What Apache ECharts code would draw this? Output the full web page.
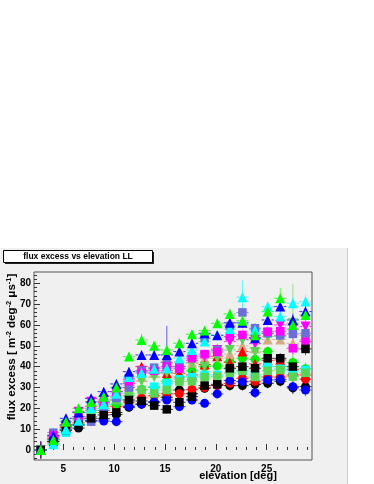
<!DOCTYPE html>
<html><head><meta charset="utf-8">
<script src="https://cdn.jsdelivr.net/npm/echarts@6/dist/echarts.min.js"></script>
<style>html,body{margin:0;padding:0;background:#fff}#c{width:374px;height:484px}</style>
</head><body><div id="c"></div>
<script>
const elevation = [2.78,4.02,5.26,6.5,7.74,8.98,10.22,11.46,12.7,13.94,15.18,16.42,17.66,18.9,20.14,21.38,22.62,23.86,25.1,26.34,27.58,28.82];
const xTickLabels = [5,10,15,20,25];
const yTickLabels = [0,10,20,30,40,50,60,70,80];

const blackCircle = [0,4,9.5,10.5,14,15,17,20.5,22,23,25.3,28.8,27,29.6,31,30.9,30.9,31.5,32,33,29.8,30.4];
const redCircle   = [0,5,11,13,16,18,21,23,25,26,27,27,29,30,31,32,34.4,33,35,35,36,34];
const greenCircle = [0,5,12,15,18,20,22,26,29,30,33,35,38,40,40.3,42.4,44,43.5,47.2,40,42,39];
const blueCircle  = [0,5,10,12,14,13.9,13.6,21,22,23,24,20.8,24,22.4,26.9,33.3,32.8,27.5,33.6,33.9,30.4,28.8];
const blackSquare = [0,4,9.6,12,15.2,16.8,18,24,23.5,21.3,19.5,22.9,25.6,30.9,31.5,39.2,40,39.2,44,44,40,48.5];
const magentaSquare = [0,7,12,16,21,23,28,33,37,38,40,39,44,46,47,54.4,55.2,54,56.8,57,48.8,52];
const green8Square  = [0,5,12,15,19,22,24,27.2,28.8,27.2,28.8,32.8,33,35,35.2,37,38,35,38,38.4,35.2,37];
const slateSquare   = [0,8.3,12,15,13.6,19,25,30,38,39.5,42,40,45,53.6,48,59.5,66,58.4,56,55,55.7,56];
const cyanSquare    = [0,2.4,8.3,12.3,16,19,24,34.4,37.6,30.4,32,34,35,36,36,39,38,36,40,39,38,38.4];
const redTriangle   = [0,5.6,11,15,19,23,28,32,40,39,37,36.8,36,41,45,42,47.2,41.3,43,43.2,38.7,36];
const greenTriangle = [0,4.8,13.6,20,23,25.6,30,44.8,52.8,50,48,51.2,55.5,57.3,60.8,65.3,62,55,66.4,72.8,60,64.8];
const blueTriangle  = [0,7,15.2,18,24.8,28,31.7,37.6,45.6,45.6,45.6,47.2,51.2,56,55,61,61,53.6,62.4,68.8,62.4,66.4];
const cyanTriangle  = [0,3,10,14,20,22,27,35,37,39,39.2,44,48,52,55.2,58,73.3,57.6,68.8,64,70.4,71.2];
const tanTriangle   = [0,6,12,16,20,22,26,31,35,37,42.4,40,42,44,48.8,46,50,48.8,53,53,51.2,55];
const magentaDown   = [0,6.4,12,18.4,23.2,24,28,34,38,37,38,40,43,45,48,52,53,51,56,60,58,59.2];
const green8Down    = [0,5,12,16,19,21,24,30,33,35,37,40,41.6,40,44,48,52.8,47,54.4,54.4,60.8,52.8];

const errSmall   = [4,2,1.5,1.5,1.5,1.5,2,2,2,2,2,2,2,2,2,2.5,2.5,2.5,2.5,2.5,3,3];
const errCyanTri = [2,2,1.5,1.5,1.5,1.5,2,2,2,2,2,2,2,2,2,2.5,8,2.5,2.5,2.5,3,3];
const errBlueTri = [2,2,1.5,1.5,1.5,1.5,2,2,2,2,14,2,2,2,2,2.5,2.5,2.5,2.5,2.5,3,3];
const errGreenTri= [2,2,1.5,1.5,1.5,1.5,2,2,3,2,2,2,2,2,2,2.5,2.5,2.5,2.5,5,3,3];
const errGreen8Dn= [2,2,1.5,1.5,1.5,1.5,2,2,2,2,2,2,2,2,2,2.5,2.5,2.5,2.5,2.5,19,3];
const xHalfWidth = 0.6;

const defs = [
  {name:'blackCircle', v:blackCircle, e:errSmall, c:'#000000', s:'circle', sz:9},
  {name:'redCircle', v:redCircle, e:errSmall, c:'#ff0000', s:'circle', sz:9},
  {name:'greenCircle', v:greenCircle, e:errSmall, c:'#00ee00', s:'circle', sz:9},
  {name:'blueCircle', v:blueCircle, e:errSmall, c:'#0000ff', s:'circle', sz:9},
  {name:'tanTriangle', v:tanTriangle, e:errSmall, c:'#d5aa84', s:'triangle', sz:10},
  {name:'redTriangle', v:redTriangle, e:errSmall, c:'#ff0000', s:'triangle', sz:10},
  {name:'magentaDown', v:magentaDown, e:errSmall, c:'#ff00ff', s:'triangle', sz:10, rot:180},
  {name:'green8Down', v:green8Down, e:errGreen8Dn, c:'#59d454', s:'triangle', sz:10, rot:180},
  {name:'cyanSquare', v:cyanSquare, e:errSmall, c:'#00ffff', s:'rect', sz:8.5},
  {name:'green8Square', v:green8Square, e:errSmall, c:'#59d454', s:'rect', sz:8.5},
  {name:'slateSquare', v:slateSquare, e:errSmall, c:'#6d6dd8', s:'rect', sz:8.5},
  {name:'magentaSquare', v:magentaSquare, e:errSmall, c:'#ff00ff', s:'rect', sz:8.5},
  {name:'blackSquare', v:blackSquare, e:errSmall, c:'#000000', s:'rect', sz:8.5},
  {name:'cyanTriangle', v:cyanTriangle, e:errCyanTri, c:'#00ffff', s:'triangle', sz:10},
  {name:'blueTriangle', v:blueTriangle, e:errBlueTri, c:'#0000ff', s:'triangle', sz:10},
  {name:'greenTriangle', v:greenTriangle, e:errGreenTri, c:'#00ff00', s:'triangle', sz:10}
];

const XMIN = 2.12, XMAX = 29.46, YMIN = -4.8, YMAX = 85.4;
const minorX = [], minorY = [];
for (let t = 3; t <= 29; t++) if (t % 5 !== 0) minorX.push(t);
for (let t = -4; t <= 84; t += 2) if (t % 10 !== 0) minorY.push(t);

const series = [];
defs.forEach(d => {
  const data = elevation.map((x, i) => [x, d.v[i], d.e[i]]);
  series.push({
    type: 'custom', name: d.name + 'Err', xAxisIndex: 0, yAxisIndex: 0, z: 2,
    data: data, silent: true,
    renderItem: function (params, api) {
      const x = api.value(0), y = api.value(1), e = api.value(2);
      const pL = api.coord([x - xHalfWidth, y]);
      const pR = api.coord([x + xHalfWidth, y]);
      const pT = api.coord([x, y + e]);
      const pB = api.coord([x, y - e]);
      return {type: 'group', children: [
        {type: 'line', shape: {x1: pL[0], y1: pL[1], x2: pR[0], y2: pR[1]}, style: {stroke: d.c, lineWidth: 1, lineDash: [3, 2], opacity: 0.8}},
        {type: 'line', shape: {x1: pT[0], y1: pT[1], x2: pB[0], y2: pB[1]}, style: {stroke: d.c, lineWidth: 1, opacity: 0.6}}
      ]};
    }
  });
  series.push({
    type: 'scatter', name: d.name, xAxisIndex: 0, yAxisIndex: 0, z: 3,
    data: data.map(p => [p[0], p[1]]),
    symbol: d.s, symbolSize: d.sz, symbolRotate: d.rot || 0,
    itemStyle: {color: d.c, opacity: 1}, silent: true
  });
});

const lblFont = {fontFamily: 'Liberation Sans, Arial, sans-serif', fontWeight: 'bold', fontSize: 10, color: '#000'};

const chart = echarts.init(document.getElementById('c'), null, {renderer: 'canvas'});
chart.setOption({
  animation: false,
  backgroundColor: '#ffffff',
  grid: {left: 34, top: 272, right: 62, bottom: 24, show: true, borderColor: '#555', borderWidth: 1, backgroundColor: 'transparent'},
  xAxis: [
    {type: 'value', min: XMIN, max: XMAX, position: 'bottom', splitLine: {show: false}, axisLine: {show: false},
     axisTick: {show: true, inside: true, length: 6, customValues: xTickLabels, lineStyle: {color: '#333'}},
     axisLabel: Object.assign({customValues: xTickLabels, margin: 4}, lblFont)},
    {type: 'value', min: XMIN, max: XMAX, position: 'bottom', splitLine: {show: false}, axisLine: {show: false},
     axisTick: {show: true, inside: true, length: 3, customValues: minorX, lineStyle: {color: '#333'}},
     axisLabel: {show: false}}
  ],
  yAxis: [
    {type: 'value', min: YMIN, max: YMAX, position: 'left', splitLine: {show: false}, axisLine: {show: false},
     axisTick: {show: true, inside: true, length: 6, customValues: yTickLabels, lineStyle: {color: '#333'}},
     axisLabel: Object.assign({customValues: yTickLabels, margin: 3}, lblFont)},
    {type: 'value', min: YMIN, max: YMAX, position: 'left', splitLine: {show: false}, axisLine: {show: false},
     axisTick: {show: true, inside: true, length: 3, customValues: minorY, lineStyle: {color: '#333'}},
     axisLabel: {show: false}}
  ],
  graphic: [
    {type: 'rect', z: -10, silent: true, shape: {x: 0, y: 248, width: 347, height: 236}, style: {fill: '#f0f0f0'}},
    {type: 'line', z: -9, silent: true, shape: {x1: 347.5, y1: 248, x2: 347.5, y2: 484}, style: {stroke: '#c8c8c8', lineWidth: 1}},
    {type: 'rect', z: 10, silent: true, shape: {x: 5, y: 252, width: 149, height: 12}, style: {fill: '#222'}},
    {type: 'rect', z: 11, silent: true, shape: {x: 3.5, y: 250.5, width: 149, height: 12}, style: {fill: '#ffffff', stroke: '#000', lineWidth: 1}},
    {type: 'text', z: 12, silent: true, x: 78, y: 256.5, style: {text: 'flux excess vs elevation LL', fontFamily: 'Liberation Sans, Arial, sans-serif', fontWeight: 'bold', fontSize: 8.5, fill: '#000', align: 'center', verticalAlign: 'middle'}},
    {type: 'text', z: 12, silent: true, x: 238, y: 476, style: {text: 'elevation [deg]', fontFamily: 'Liberation Sans, Arial, sans-serif', fontWeight: 'bold', fontSize: 11, fill: '#000', align: 'center', verticalAlign: 'middle'}},
    {type: 'text', z: 12, silent: true, x: 12, y: 347, rotation: Math.PI / 2,
     style: {text: 'flux excess [ m{s|-2} deg{s|-2} μs{s|-1}]', fontFamily: 'Liberation Sans, Arial, sans-serif', fontWeight: 'bold', fontSize: 11.5, fill: '#000', align: 'center', verticalAlign: 'middle',
       rich: {s: {fontSize: 7.5, fontWeight: 'bold', fontFamily: 'Liberation Sans, Arial, sans-serif', verticalAlign: 'top', padding: [0, 0, 6, 0]}}}}
  ],
  series: series
});
</script></body></html>
